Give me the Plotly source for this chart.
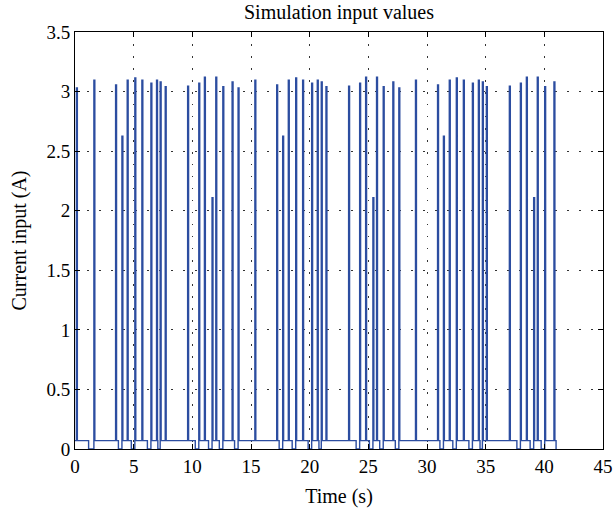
import plotly.graph_objects as go

##################################
# DATA
##################################

# pulse start times (s) and pulse heights (A)
pulse_t = [0.12, 1.61, 3.46, 4.00, 4.45, 5.10, 5.70, 6.47, 6.95, 7.26, 7.69,
           9.60, 10.55, 11.03, 11.68, 12.00, 12.60, 13.39, 13.90, 15.33,
           17.19, 17.70, 18.18, 18.81, 19.40, 20.17, 20.65, 20.99, 21.39,
           23.32, 24.26, 24.77, 25.39, 25.70, 26.27, 27.09, 27.60, 29.02,
           30.90, 31.40, 31.90, 32.50, 33.10, 33.87, 34.38, 34.72, 35.06,
           37.02, 37.96, 38.47, 39.09, 39.40, 40.03, 40.82]
pulse_peak = [3.03, 3.095, 3.056, 2.625, 3.095, 3.115, 3.095, 3.07, 3.095, 3.08, 3.04,
              3.045, 3.07, 3.12, 2.11, 3.12, 3.04, 3.08, 3.03, 3.095,
              3.056, 2.625, 3.095, 3.115, 3.095, 3.07, 3.095, 3.08, 3.04,
              3.045, 3.07, 3.12, 2.11, 3.12, 3.04, 3.08, 3.03, 3.095,
              3.056, 2.625, 3.095, 3.115, 3.095, 3.07, 3.095, 3.08, 3.04,
              3.045, 3.07, 3.12, 2.11, 3.12, 3.04, 3.08]
# length of the zero-current gap before each pulse (s), 0 = none
pulse_dip = [0, 0.45, 0, 0.3, 0, 0.3, 0, 0.3, 0, 0.2, 0,
             0, 0.3, 0, 0.3, 0, 0.3, 0, 0.3, 0,
             0, 0.3, 0, 0.3, 0, 0.3, 0, 0.2, 0,
             0, 0.3, 0, 0.3, 0, 0.3, 0, 0.3, 0,
             0, 0.3, 0, 0.3, 0, 0.3, 0, 0.2, 0,
             0, 0.3, 0, 0.3, 0, 0.3, 0]
base_level = 0.07
pulse_width = 0.08
end_time = 41.0

##################################
# BUILD STEP WAVEFORM
##################################

xs = [0.0]
ys = [base_level]
for t, p, d in zip(pulse_t, pulse_peak, pulse_dip):
    level = base_level
    if d > 0:
        xs += [t - d, t - d]
        ys += [base_level, 0.0]
        level = 0.0
    xs += [t, t, t + pulse_width, t + pulse_width]
    ys += [level, p, p, base_level]
xs += [end_time, end_time]
ys += [base_level, 0.0]

##################################
# PLOTTING
##################################

font_name = "Liberation Serif"
tick_size = 19
label_size = 20

fig = go.Figure()
fig.add_trace(go.Scatter(x=xs, y=ys, mode="lines",
                         line=dict(color="#2c4da0", width=1.4),
                         showlegend=False, hoverinfo="skip"))

axis_style = dict(showline=True, linecolor="black", linewidth=1, mirror="ticks",
                  ticks="inside", ticklen=5, tickcolor="black", automargin=False,
                  showgrid=True, gridcolor="#333333", griddash="1.5px,10.5px", gridwidth=1,
                  zeroline=False, tickfont=dict(family=font_name, size=tick_size, color="black"))

fig.update_xaxes(range=[0, 45], dtick=5, tick0=0,
                 title=dict(text="Time (s)", font=dict(family=font_name, size=label_size, color="black"), standoff=13),
                 **axis_style)
fig.update_yaxes(range=[0, 3.5], dtick=0.5, tick0=0,
                 title=dict(text="Current input (A)", font=dict(family=font_name, size=label_size, color="black"), standoff=14),
                 **axis_style)

fig.update_layout(
    width=614, height=514,
    margin=dict(l=75, r=11, t=32, b=65),
    paper_bgcolor="white", plot_bgcolor="white",
    title=dict(text="Simulation input values", x=(75 + 603) / 2 / 614, xanchor="center",
               y=1 - 12 / 514, yanchor="middle",
               font=dict(family=font_name, size=label_size, color="black")),
)

# drop the default 8px page margin so the figure sits at the window corner
fig.write_html("out.html", config={"displayModeBar": False},
               post_script="document.body.style.margin='0';")
